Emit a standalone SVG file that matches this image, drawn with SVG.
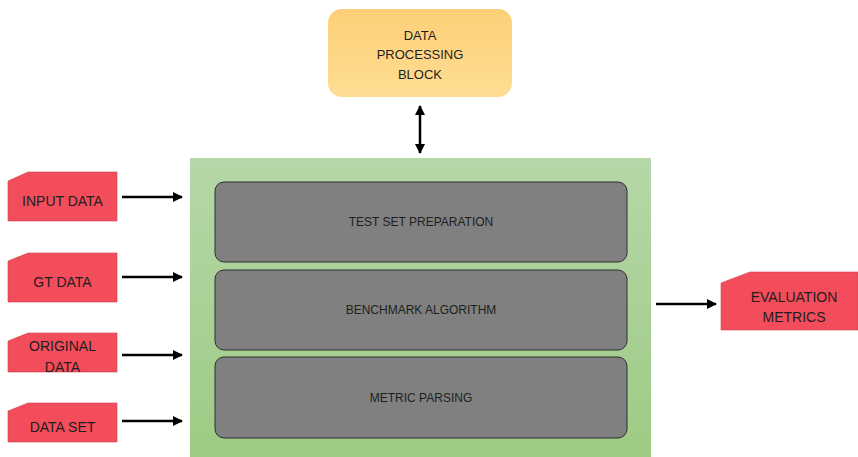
<svg xmlns="http://www.w3.org/2000/svg" width="858" height="457" viewBox="0 0 858 457">
<defs>
<linearGradient id="gOrange" x1="0" y1="0" x2="0" y2="1">
<stop offset="0" stop-color="#FCD078"/>
<stop offset="1" stop-color="#FFDD93"/>
</linearGradient>
<linearGradient id="gGreen" x1="0" y1="0" x2="0" y2="1">
<stop offset="0" stop-color="#B6D7A8"/>
<stop offset="1" stop-color="#9DCB84"/>
</linearGradient>
<marker id="ah" viewBox="0 0 10 10" refX="9" refY="5" markerWidth="4" markerHeight="4" orient="auto-start-reverse" markerUnits="strokeWidth">
<path d="M0,0 L10,5 L0,10 z" fill="#000"/>
</marker>
<style>
.t{font-family:"Liberation Sans",Arial,sans-serif;fill:#1e1e1e;text-anchor:middle}
.f14{font-size:14px}
.f13{font-size:13px}
.f12{font-size:12px}
.red{fill:#F34C5A;stroke:#C94350;stroke-width:0.6}
.inner{fill:#808080;stroke:#2e2e2e;stroke-width:1}
.conn{stroke:#000;stroke-width:2.5;fill:none;marker-end:url(#ah)}
</style>
</defs>
<rect width="858" height="457" fill="#fff"/>

<g id="data-processing-block">
<rect x="328" y="9" width="184" height="88" rx="14" fill="url(#gOrange)"/>
<text class="t f13" x="420" y="40">DATA</text>
<text class="t f13" x="420" y="59">PROCESSING</text>
<text class="t f13" x="420" y="79">BLOCK</text>
</g>

<g id="benchmark-container">
<rect x="190" y="158" width="461" height="299" fill="url(#gGreen)"/>
</g>

<g id="test-set-preparation">
<rect class="inner" x="215" y="182" width="412" height="80" rx="9"/>
<text class="t f12" x="421" y="226">TEST SET PREPARATION</text>
</g>
<g id="benchmark-algorithm">
<rect class="inner" x="215" y="270" width="412" height="80" rx="9"/>
<text class="t f12" x="421" y="314">BENCHMARK ALGORITHM</text>
</g>
<g id="metric-parsing">
<rect class="inner" x="215" y="357" width="412" height="81" rx="9"/>
<text class="t f12" x="421" y="402">METRIC PARSING</text>
</g>

<g id="input-data">
<path class="red" d="M8,181 L28,172 L117,172 L117,221 L8,221 Z"/>
<text class="t f14" x="62.5" y="206">INPUT DATA</text>
</g>
<g id="gt-data">
<path class="red" d="M8,261 L28,253 L117,253 L117,302 L8,302 Z"/>
<text class="t f14" x="62.5" y="287">GT DATA</text>
</g>
<g id="original-data">
<path class="red" d="M8,341 L28,333 L117,333 L117,372 L8,372 Z"/>
<text class="t f14" x="62.5" y="351">ORIGINAL</text>
<text class="t f14" x="62.5" y="372">DATA</text>
</g>
<g id="data-set">
<path class="red" d="M8,411 L28,403 L117,403 L117,442 L8,442 Z"/>
<text class="t f14" x="62.5" y="432">DATA SET</text>
</g>
<g id="evaluation-metrics">
<path class="red" d="M721,283 L750,272 L858,272 L858,330 L721,330 Z"/>
<text class="t f14" x="794" y="302">EVALUATION</text>
<text class="t f14" x="794" y="322">METRICS</text>
</g>

<g id="connectors">
<line class="conn" x1="420" y1="106" x2="420" y2="153" marker-start="url(#ah)"/>
<line class="conn" x1="122" y1="197" x2="182" y2="197"/>
<line class="conn" x1="122" y1="277" x2="182" y2="277"/>
<line class="conn" x1="122" y1="355" x2="182" y2="355"/>
<line class="conn" x1="122" y1="421" x2="182" y2="421"/>
<line class="conn" x1="656" y1="304" x2="716" y2="304"/>
</g>
</svg>
